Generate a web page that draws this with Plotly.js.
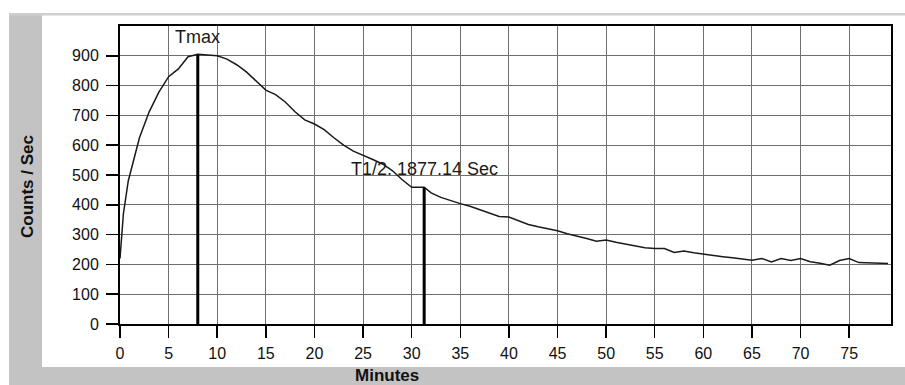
<!DOCTYPE html>
<html>
<head>
<meta charset="utf-8">
<script src="https://cdn.plot.ly/plotly-3.0.1.min.js"></script>
<style>
  html, body { margin: 0; padding: 0; background: #ffffff; }
  #chart { width: 905px; height: 385px; }
</style>
</head>
<body>
<div id="chart"></div>
<script>
// ---- data ----
const minutes = [0, 0.35, 0.85, 1.4, 2, 3, 4, 5, 6, 7, 8, 9, 10, 11, 12, 13, 14, 15, 16, 17, 18, 19, 20,
  21, 22, 23, 24, 25, 26, 27, 28, 29, 30, 31.29, 32, 33, 34, 35, 36, 37, 38, 39, 40, 41, 42, 43, 44, 45,
  46, 47, 48, 49, 50, 51, 52, 53, 54, 55, 56, 57, 58, 59, 60, 61, 62, 63, 64, 65, 66, 67, 68, 69, 70,
  71, 72, 73, 74, 75, 76, 77, 78, 79];
const countsPerSec = [220, 370, 480, 550, 625, 712, 778, 830, 856, 897, 905, 903, 900, 889, 870, 846, 815,
  785, 770, 745, 712, 685, 671, 652, 625, 600, 580, 567, 552, 537, 515, 485, 459, 459, 440, 425, 414, 404,
  395, 384, 372, 361, 359, 346, 334, 326, 319, 313, 303, 296, 287, 278, 282, 274, 268, 263, 256, 253, 253,
  240, 245, 239, 234, 230, 226, 222, 218, 214, 220, 208, 220, 213, 220, 209, 204, 197, 213, 220, 206, 205,
  204, 203];
const tmaxMin = 8;
const tmaxVal = 903;
const thalfSec = 1877.14;
const thalfVal = 457;
const xTicks = [0, 5, 10, 15, 20, 25, 30, 35, 40, 45, 50, 55, 60, 65, 70, 75];
const yTicks = [0, 100, 200, 300, 400, 500, 600, 700, 800, 900];
const tmaxLabel = "Tmax";
const thalfLabel = "T1/2. " + thalfSec.toFixed(2) + " Sec";
const xTitle = "Minutes";
const yTitle = "Counts / Sec";

const thalfMin = thalfSec / 60;

// pixel helpers for decorations outside the plot (plot area: x 120..891, y 26..324)
const PL = 120, PR = 891, PT = 26, PB = 324;
const px = v => (v - PL) / (PR - PL);
const py = v => (PB - v) / (PB - PT);

const FONT = "Liberation Sans, Arial, sans-serif";

const traces = [
  { x: minutes, y: countsPerSec, type: "scatter", mode: "lines",
    line: { color: "#1a1a1a", width: 1.5 }, hoverinfo: "skip" },
  { x: [tmaxMin, tmaxMin], y: [0, tmaxVal], type: "scatter", mode: "lines",
    line: { color: "#000000", width: 3 }, hoverinfo: "skip" },
  { x: [thalfMin, thalfMin], y: [0, thalfVal], type: "scatter", mode: "lines",
    line: { color: "#000000", width: 3 }, hoverinfo: "skip" }
];

const gray = "#c3c3c3";
const layout = {
  width: 905, height: 385,
  margin: { l: PL, r: 905 - PR, t: PT, b: 385 - PB, pad: 0 },
  paper_bgcolor: "#ffffff",
  plot_bgcolor: "#ffffff",
  showlegend: false,
  font: { family: FONT, color: "#1a1a1a" },
  xaxis: {
    range: [0, 79.3], tickvals: xTicks, ticktext: xTicks.map(String),
    showgrid: true, gridcolor: "#707070", gridwidth: 1,
    showline: true, linecolor: "#000000", linewidth: 2, mirror: true,
    ticks: "outside", ticklen: 12, tickwidth: 1.5, tickcolor: "#000000",
    ticklabelstandoff: 2,
    tickfont: { family: FONT, size: 16, color: "#111111" },
    zeroline: false, fixedrange: true
  },
  yaxis: {
    range: [0, 1000], tickvals: yTicks, ticktext: yTicks.map(String),
    showgrid: true, gridcolor: "#707070", gridwidth: 1,
    showline: true, linecolor: "#000000", linewidth: 2, mirror: true,
    ticks: "outside", ticklen: 12, tickwidth: 1.5, tickcolor: "#000000",
    ticklabelstandoff: 4,
    tickfont: { family: FONT, size: 16, color: "#111111" },
    zeroline: false, fixedrange: true
  },
  shapes: [
    { type: "rect", xref: "paper", yref: "paper", layer: "below",
      x0: px(9), x1: px(42), y0: py(385), y1: py(14), fillcolor: gray, line: { width: 0 } },
    { type: "rect", xref: "paper", yref: "paper", layer: "below",
      x0: px(9), x1: px(905), y0: py(385), y1: py(367), fillcolor: gray, line: { width: 0 } },
    { type: "rect", xref: "paper", yref: "paper", layer: "below",
      x0: px(9), x1: px(905), y0: py(15.5), y1: py(13), fillcolor: "#cfcfcf", line: { width: 0 } }
  ],
  annotations: [
    { x: tmaxMin, y: 964, xref: "x", yref: "y", text: tmaxLabel, showarrow: false,
      xanchor: "center", yanchor: "middle", font: { family: FONT, size: 18, color: "#1a1a1a" } },
    { x: thalfMin, y: 520, xref: "x", yref: "y", text: thalfLabel, showarrow: false,
      xanchor: "center", yanchor: "middle", font: { family: FONT, size: 18, color: "#1a1a1a" } },
    { x: px(387), y: py(375), xref: "paper", yref: "paper", text: "<b>" + xTitle + "</b>", showarrow: false,
      xanchor: "center", yanchor: "middle", font: { family: FONT, size: 17, color: "#111111" } },
    { x: px(28), y: py(187), xref: "paper", yref: "paper", text: "<b>" + yTitle + "</b>", showarrow: false,
      textangle: -90, xanchor: "center", yanchor: "middle", font: { family: FONT, size: 17, color: "#111111" } }
  ]
};

Plotly.newPlot("chart", traces, layout, { displayModeBar: false, staticPlot: true });
</script>
</body>
</html>
